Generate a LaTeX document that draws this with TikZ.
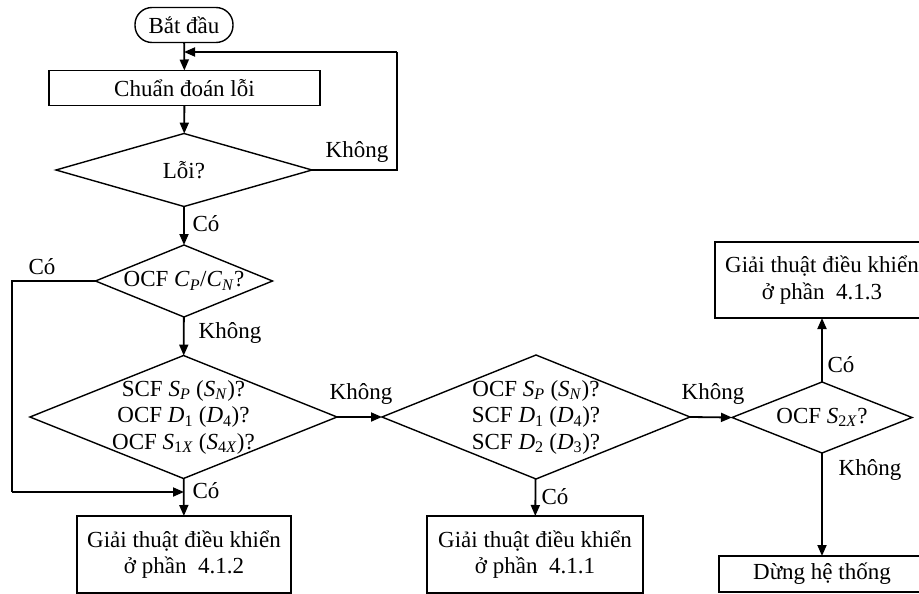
\documentclass[tikz,border=0pt]{standalone}
\usepackage{fontspec}
\setmainfont{Liberation Serif}
\usetikzlibrary{arrows.meta,shapes.geometric}
% italic symbol with subscript, e.g. \sy{S}{P}
\newcommand{\sy}[2]{\textit{#1}\textsubscript{#2}}
\begin{document}
\begin{tikzpicture}[x=1pt,y=-1pt,
  every node/.style={font=\fontsize{23}{26.5}\selectfont},
  line/.style={line width=1.8pt},
  flow/.style={line width=1.8pt,-{Triangle[length=11pt,width=9pt]}},
  boxnode/.style={draw,line width=1.4pt,rectangle,inner sep=0pt,outer sep=0pt,align=center},
  dianode/.style={draw,line width=1.4pt,diamond,inner sep=0pt,outer sep=0pt},
  lbl/.style={inner sep=1pt}]
\useasboundingbox (0,0) rectangle (919,594);
\clip (0,0) rectangle (919,594);

% start / processing boxes
\node[boxnode,rounded corners=17pt,minimum width=98pt,minimum height=35pt] (start) at (184,25) {Bắt đầu};
\node[boxnode,minimum width=271pt,minimum height=35pt] (diag) at (184.5,88) {Chuẩn đoán lỗi};

% decisions
\node[dianode,minimum width=256pt,minimum height=73pt] (err) at (184,170) {};
\node at (err) {Lỗi?};
\node[dianode,minimum width=177pt,minimum height=72pt] (cpcn) at (184,281) {};
\node at (cpcn) {OCF \sy{C}{\textit{P}}/\sy{C}{\textit{N}}?};
\node[dianode,minimum width=307pt,minimum height=123pt] (dA) at (183.5,417) {};
\node[align=center] at (dA) {SCF \sy{S}{\textit{P}} (\sy{S}{\textit{N}})?\\OCF \sy{D}{1} (\sy{D}{4})?\\OCF \sy{S}{1\textit{X}} (\sy{S}{4\textit{X}})?};
\node[dianode,minimum width=308pt,minimum height=124pt] (dB) at (536,417) {};
\node[align=center] at (dB) {OCF \sy{S}{\textit{P}} (\sy{S}{\textit{N}})?\\SCF \sy{D}{1} (\sy{D}{4})?\\SCF \sy{D}{2} (\sy{D}{3})?};
\node[dianode,minimum width=180pt,minimum height=71pt] (dC) at (822,417.5) {};
\node at (dC) {OCF \sy{S}{2\textit{X}}?};

% outcome boxes
\node[boxnode,minimum width=214pt,minimum height=77pt] (b412) at (184,554.5) {Giải thuật điều khiển\\ở phần\ \ 4.1.2};
\node[boxnode,minimum width=216pt,minimum height=77pt] (b411) at (535,554.5) {Giải thuật điều khiển\\ở phần\ \ 4.1.1};
\node[boxnode,minimum width=214pt,minimum height=76pt] (b413) at (822,280) {Giải thuật điều khiển\\ở phần\ \ 4.1.3};
\node[boxnode,minimum width=206pt,minimum height=36pt] (stop) at (822,574) {Dừng hệ thống};

% helper points for the routed connectors
\coordinate (loopR) at (397,52);
\coordinate (loopIn) at (184,52);
\coordinate (byL) at (12,492);
\coordinate (byIn) at (184,492);

% connectors
\draw[flow] (start) -- (diag);
\draw[flow] (diag) -- (err);
\draw[line] (err.east) -| (loopR);
\draw[flow] (loopR) -- (loopIn);
\node[lbl] at (357,152) {Không};
\draw[flow] (err) -- (cpcn);
\node[lbl] at (206,224) {Có};
\draw[line] (cpcn.west) -| (byL);
\draw[flow] (byL) -- (byIn);
\node[lbl] at (42,267) {Có};
\draw[flow] (cpcn) -- (dA);
\node[lbl] at (230,333) {Không};
\draw[flow] (dA) -- (b412);
\node[lbl] at (206,491) {Có};
\draw[flow] (dA.east) -- (dB.west);
\node[lbl] at (361,394) {Không};
\draw[flow] (dB) -- (b411);
\node[lbl] at (555,497) {Có};
\draw[flow] (dB.east) -- (dC.west);
\node[lbl] at (713,394) {Không};
\draw[flow] (dC) -- (b413);
\node[lbl] at (841,365) {Có};
\draw[flow] (dC) -- (stop);
\node[lbl] at (870,470) {Không};
\end{tikzpicture}
\end{document}
